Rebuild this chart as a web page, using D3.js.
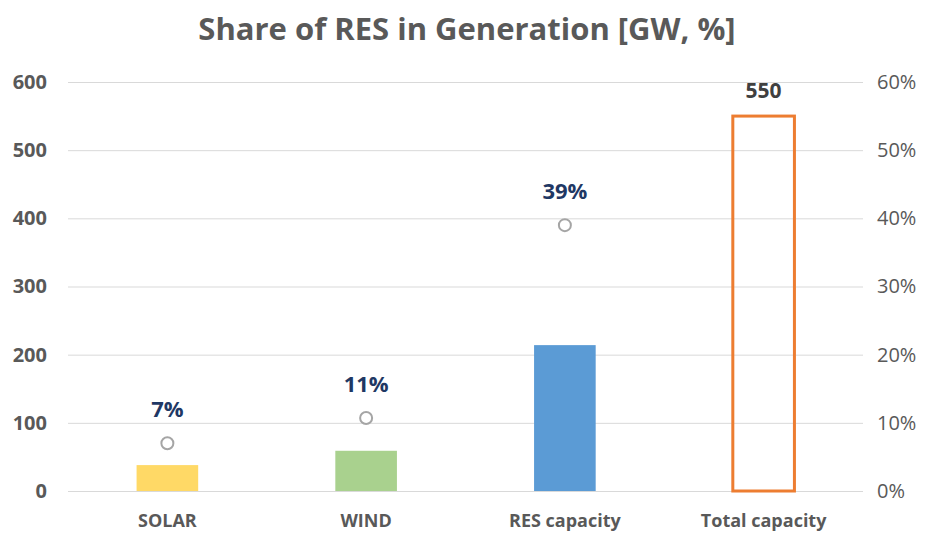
<!DOCTYPE html>
<html>
<head>
<meta charset="utf-8">
<script src="https://cdn.jsdelivr.net/npm/d3@7"></script>
<style>
  body { margin: 0; background: #fff; }
  svg { font-family: "Open Sans", sans-serif; }
</style>
</head>
<body>
<div id="chart"></div>
<script>
var categories = ["SOLAR", "WIND", "RES capacity", "Total capacity"];
var capacity = [38, 59, 214, 550];
var share = [0.07, 0.107, 0.39, null];
var shareLabels = ["7%", "11%", "39%", null];
var leftTicks = [0, 100, 200, 300, 400, 500, 600];
var rightTicks = [0, 0.1, 0.2, 0.3, 0.4, 0.5, 0.6];
var barColors = ["#FFD966", "#A9D18E", "#5B9BD5", "none"];

var width = 931, height = 534,
    margin = { top: 82, right: 68, bottom: 43, left: 68 },
    innerW = width - margin.left - margin.right,
    innerH = height - margin.top - margin.bottom;

var svg = d3.select("#chart").append("svg")
  .attr("width", width)
  .attr("height", height);

svg.append("text")
  .attr("x", 467)
  .attr("y", 40)
  .attr("text-anchor", "middle")
  .style("font-size", "31px")
  .style("font-weight", "bold")
  .style("fill", "#595959")
  .text("Share of RES in Generation [GW, %]");

var g = svg.append("g")
  .attr("transform", "translate(" + margin.left + "," + margin.top + ")");

var x = d3.scaleBand().domain(categories).range([0, innerW]).paddingInner(0.69).paddingOuter(0.345);
var y = d3.scaleLinear().domain([0, 600]).range([innerH, 0]);
var y2 = d3.scaleLinear().domain([0, 0.6]).range([innerH, 0]);

// grid
g.selectAll(".grid")
  .data(leftTicks)
  .enter().append("line")
  .attr("x1", 0).attr("x2", innerW)
  .attr("y1", function(d) { return y(d) + 0.5; })
  .attr("y2", function(d) { return y(d) + 0.5; })
  .style("stroke", "#D9D9D9")
  .style("stroke-width", 1);

// left axis
var leftAxis = g.append("g")
  .call(d3.axisLeft(y).tickValues(leftTicks).tickSize(0).tickPadding(21));
leftAxis.select(".domain").remove();
leftAxis.selectAll("text")
  .style("font-family", "Open Sans, sans-serif")
  .style("font-size", "20px")
  .style("font-weight", "bold")
  .style("fill", "#595959");

// right axis
var rightAxis = g.append("g")
  .attr("transform", "translate(" + innerW + ",0)")
  .call(d3.axisRight(y2).tickValues(rightTicks).tickSize(0).tickPadding(14).tickFormat(d3.format(".0%")));
rightAxis.select(".domain").remove();
rightAxis.selectAll("text")
  .style("font-family", "Open Sans, sans-serif")
  .style("font-size", "20px")
  .style("fill", "#595959");

// bottom axis labels
var bottomAxis = g.append("g")
  .attr("transform", "translate(0," + innerH + ")")
  .call(d3.axisBottom(x).tickSize(0).tickPadding(23));
bottomAxis.select(".domain").remove();
bottomAxis.selectAll("text")
  .style("font-family", "Open Sans, sans-serif")
  .style("font-size", "18px")
  .style("font-weight", "bold")
  .style("fill", "#595959");

// bars
g.selectAll(".bar")
  .data(capacity)
  .enter().append("rect")
  .attr("x", function(d, i) { return x(categories[i]); })
  .attr("y", function(d) { return y(d); })
  .attr("width", x.bandwidth())
  .attr("height", function(d) { return innerH - y(d); })
  .style("fill", function(d, i) { return barColors[i] === "none" ? "none" : barColors[i]; })
  .style("stroke", function(d, i) { return barColors[i] === "none" ? "#ED7D31" : "none"; })
  .style("stroke-width", 3);

// total label
g.append("text")
  .attr("x", x(categories[3]) + x.bandwidth() / 2)
  .attr("y", y(capacity[3]) - 18)
  .attr("text-anchor", "middle")
  .style("font-size", "21px")
  .style("font-weight", "bold")
  .style("fill", "#404040")
  .text(capacity[3]);

// share markers
var pts = share.map(function(d, i) { return { v: d, c: categories[i], l: shareLabels[i] }; })
  .filter(function(d) { return d.v !== null; });

g.selectAll(".dot")
  .data(pts)
  .enter().append("circle")
  .attr("cx", function(d) { return x(d.c) + x.bandwidth() / 2; })
  .attr("cy", function(d) { return y2(d.v); })
  .attr("r", 6)
  .style("fill", "#fff")
  .style("stroke", "#A5A5A5")
  .style("stroke-width", 2);

g.selectAll(".pct")
  .data(pts)
  .enter().append("text")
  .attr("x", function(d) { return x(d.c) + x.bandwidth() / 2; })
  .attr("y", function(d) { return y2(d.v) - 26; })
  .attr("text-anchor", "middle")
  .style("font-size", "22px")
  .style("font-weight", "bold")
  .style("fill", "#1F3864")
  .text(function(d) { return d.l; });
</script>
</body>
</html>
